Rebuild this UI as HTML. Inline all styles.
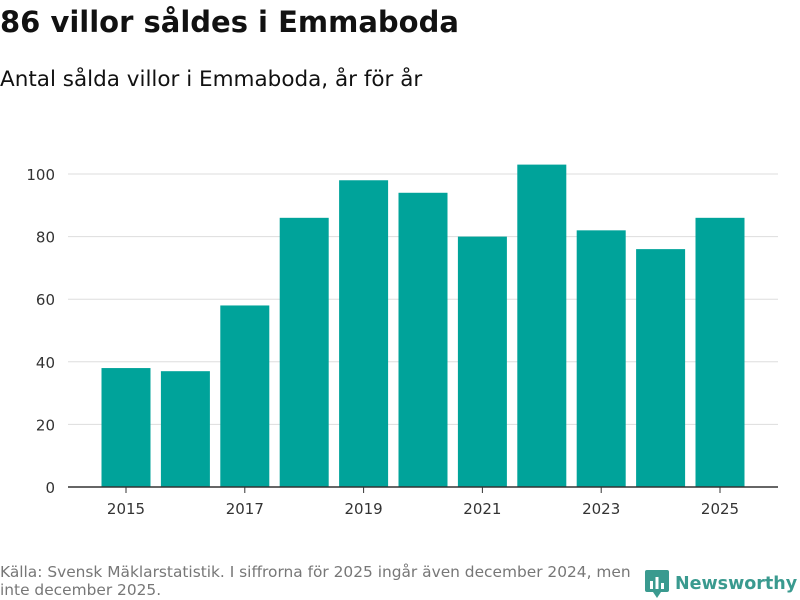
<!DOCTYPE html>
<html><head><meta charset="utf-8"><style>
body{margin:0;width:800px;height:600px;background:#fff;font-family:"DejaVu Sans","Liberation Sans",sans-serif;overflow:hidden;position:relative}
#title{position:absolute;left:0;top:5px;font-size:29px;font-weight:bold;color:#111;margin:0}
#sub{position:absolute;left:0;top:67px;font-size:21.5px;color:#111}
#src{position:absolute;left:0;top:563px;font-size:15.4px;color:#777;width:645px;line-height:18px}
#logo{position:absolute;left:645px;top:570px;font-size:17.5px;font-weight:bold;color:#3a9a8f;display:flex;align-items:center;gap:6px}
</style></head><body>
<h1 id="title">86 villor såldes i Emmaboda</h1>
<div id="sub">Antal sålda villor i Emmaboda, år för år</div>
<svg id="chart" width="800" height="600" style="position:absolute;left:0;top:0"></svg>
<div id="src">Källa: Svensk Mäklarstatistik. I siffrorna för 2025 ingår även december 2024, men inte december 2025.</div>
<div id="logo"><svg width="24" height="28" viewBox="0 0 24 28"><rect x="0" y="0" width="24" height="22" rx="2" fill="#3a9a8f"/><path d="M8 22 L12 28 L16 22Z" fill="#3a9a8f"/><rect x="5" y="11" width="3" height="8" fill="#fff"/><rect x="10.5" y="7" width="3" height="12" fill="#fff"/><rect x="16" y="13" width="3" height="6" fill="#fff"/></svg><span>Newsworthy</span></div>
<script>
const years=[2015,2016,2017,2018,2019,2020,2021,2022,2023,2024,2025];
const values=[38,37,58,86,98,94,80,103,82,76,86];
const yTicks=[0,20,40,60,80,100];
const xTickLabels=[2015,2017,2019,2021,2023,2025];
const svg=document.getElementById('chart');
const NS='http://www.w3.org/2000/svg';
const ax0=68,ax1=778,b0=96.3,b1=749.7,y0=487,yMax=100,yPx=313;
const step=(b1-b0)/years.length;
function xs(i){return b0+step*(i+0.5);}
function ys(v){return y0-v*yPx/yMax;}
function mk(t,a){const e=document.createElementNS(NS,t);for(const k in a)e.setAttribute(k,a[k]);svg.appendChild(e);return e;}
yTicks.forEach(v=>{
  if(v>0){const l=mk('line',{x1:ax0,x2:ax1,y1:ys(v),y2:ys(v),stroke:'#ddd','stroke-width':1});
  
  }
  const t=mk('text',{x:55,y:ys(v)+6,'text-anchor':'end','font-size':15,fill:'#333','font-family':'DejaVu Sans, sans-serif'});
  t.textContent=v;
  
  
});
years.forEach((y,i)=>{
  const r=mk('rect',{x:xs(i)-24.5,y:ys(values[i]),width:49,height:y0-ys(values[i]),fill:'#00a39a'});
  
  
});
const ax=mk('line',{x1:ax0,x2:ax1,y1:y0,y2:y0,stroke:'#333','stroke-width':1.5});


xTickLabels.forEach(y=>{
  const i=years.indexOf(y);
  const tk=mk('line',{x1:xs(i),x2:xs(i),y1:y0,y2:y0+6,stroke:'#333'});
  
  
  const t=mk('text',{x:xs(i),y:514,'text-anchor':'middle','font-size':15,fill:'#333','font-family':'DejaVu Sans, sans-serif'});
  t.textContent=y;
  
  
});
</script>
</body></html>
